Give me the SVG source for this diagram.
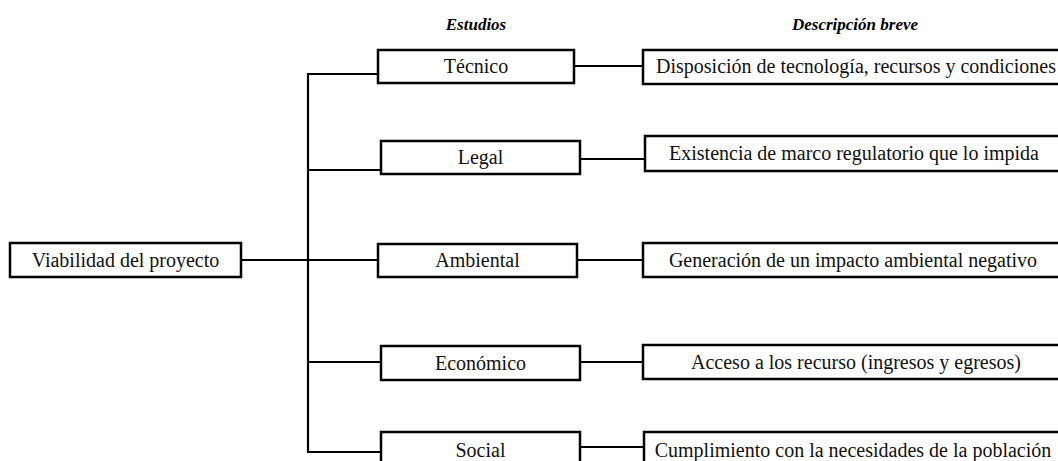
<svg xmlns="http://www.w3.org/2000/svg" width="1058" height="461" viewBox="0 0 1058 461">
<style>
.box{fill:#fff;stroke:#000;stroke-width:2.5}
.t{font-family:"Liberation Serif","Times New Roman",serif;font-size:20px;fill:#111;text-anchor:middle}
.h{font-family:"Liberation Serif","Times New Roman",serif;font-size:17px;font-weight:bold;font-style:italic;fill:#000;text-anchor:middle}
.ln{fill:none;stroke:#000;stroke-width:2.2}
</style>
<rect width="1058" height="461" fill="#fff"/>
<text class="h" x="476" y="30">Estudios</text>
<text class="h" x="855" y="30">Descripción breve</text>
<g id="connectors">
<line class="ln" x1="241" y1="260" x2="378" y2="260"/>
<polyline class="ln" points="378,74 308,74 308,452 381,452"/>
<line class="ln" x1="308" y1="170" x2="381" y2="170"/>
<line class="ln" x1="308" y1="362" x2="381" y2="362"/>
<line class="ln" x1="574" y1="66" x2="643" y2="66"/>
<line class="ln" x1="580" y1="159" x2="645" y2="159"/>
<line class="ln" x1="577" y1="260" x2="643" y2="260"/>
<line class="ln" x1="580" y1="362" x2="643" y2="362"/>
<line class="ln" x1="580" y1="447" x2="644" y2="447"/>
</g>
<g id="viabilidad"><rect class="box" x="10" y="243" width="231" height="34"/><text class="t" x="125.5" y="267">Viabilidad del proyecto</text></g>
<g id="tecnico"><rect class="box" x="378" y="50" width="196" height="33"/><text class="t" x="476" y="73">Técnico</text></g>
<g id="legal"><rect class="box" x="381" y="141" width="199" height="33"/><text class="t" x="480.5" y="164">Legal</text></g>
<g id="ambiental"><rect class="box" x="378" y="244" width="199" height="33"/><text class="t" x="477.5" y="267">Ambiental</text></g>
<g id="economico"><rect class="box" x="381" y="346" width="199" height="34"/><text class="t" x="480.5" y="370">Económico</text></g>
<g id="social"><rect class="box" x="381" y="432" width="199" height="34"/><text class="t" x="480.5" y="457">Social</text></g>
<g id="desc-tecnico"><rect class="box" x="643" y="50" width="424" height="34"/><text class="t" x="856" y="73">Disposición de tecnología, recursos y condiciones</text></g>
<g id="desc-legal"><rect class="box" x="645" y="136" width="422" height="35"/><text class="t" x="854" y="160">Existencia de marco regulatorio que lo impida</text></g>
<g id="desc-ambiental"><rect class="box" x="643" y="243" width="424" height="34"/><text class="t" x="853" y="267">Generación de un impacto ambiental negativo</text></g>
<g id="desc-economico"><rect class="box" x="643" y="345" width="424" height="34"/><text class="t" x="856" y="369">Acceso a los recurso (ingresos y egresos)</text></g>
<g id="desc-social"><rect class="box" x="644" y="432" width="423" height="34"/><text class="t" x="853" y="457">Cumplimiento con la necesidades de la población</text></g>
</svg>
